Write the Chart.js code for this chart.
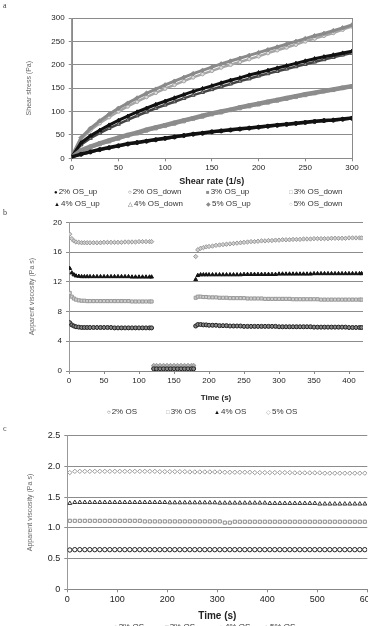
<!DOCTYPE html>
<html>
<head>
<meta charset="utf-8">
<script src="https://cdn.jsdelivr.net/npm/chart.js@4.4.0/dist/chart.umd.min.js"></script>
<style>
html, body { margin: 0; padding: 0; width: 368px; height: 626px; overflow: hidden; background: #fff; }
body { position: relative; font-family: "Liberation Sans", Arial, sans-serif; }
canvas { position: absolute; left: 0; }
.tag { position: absolute; left: 3px; font: 8px "Liberation Serif", serif; color: #444; transform: translateZ(0); }
.leg { position: absolute; font-size: 8px; line-height: 8px; color: #333; white-space: nowrap; transform: translateZ(0); }
.leg .m { font-size: 6px; margin-right: 1px; }
</style>
</head>
<body>
<span class="tag" style="top:1px">a</span>
<span class="tag" style="top:208px">b</span>
<span class="tag" style="top:424px">c</span>
<canvas id="chartA" width="368" height="190" style="top:0px"></canvas>
<canvas id="chartB" width="368" height="200" style="top:205px"></canvas>
<canvas id="chartC" width="400" height="210" style="top:420px"></canvas>
<script>
// ---- panel a: shear stress vs shear rate
var shearRate = [0, 10, 20, 30, 40, 50, 60, 70, 80, 90, 100, 110, 120, 130, 140, 150,
    160, 170, 180, 190, 200, 210, 220, 230, 240, 250, 260, 270, 280, 290, 300];
var stress2Up = [3, 9, 14, 19, 23, 27, 31, 34, 37, 40, 43, 46, 49, 52, 54, 57,
    59, 61, 63, 65, 67, 69, 71, 73, 75, 77, 79, 81, 82, 84, 86];
var stress2Down = [3, 8, 13, 18, 22, 26, 30, 33, 36, 39, 42, 45, 48, 51, 53, 56,
    58, 60, 62, 64, 66, 68, 70, 72, 74, 76, 78, 80, 81, 83, 85];
var stress3Up = [2, 17, 25, 32, 38, 44, 50, 55, 61, 66, 71, 76, 81, 86, 91, 96,
    100, 104, 109, 113, 117, 121, 125, 129, 133, 137, 140, 144, 147, 151, 154];
var stress3Down = [2, 15, 23, 30, 36, 42, 48, 53, 59, 64, 69, 74, 79, 84, 89, 94,
    98, 103, 107, 111, 115, 119, 123, 127, 131, 135, 139, 143, 146, 150, 153];
var stress4Up = [3, 33, 48, 60, 71, 81, 90, 99, 107, 115, 122, 129, 136, 143, 149, 155,
    161, 167, 172, 178, 183, 188, 193, 198, 203, 208, 213, 217, 221, 225, 229];
var stress4Down = [3, 29, 43, 54, 64, 73, 82, 91, 99, 107, 114, 121, 128, 135, 141, 147,
    153, 159, 165, 170, 176, 181, 186, 191, 196, 201, 206, 211, 216, 221, 225];
var stress5Up = [4, 44, 64, 80, 94, 107, 118, 129, 139, 148, 157, 165, 173, 181, 188, 195,
    202, 208, 214, 220, 226, 232, 238, 244, 250, 256, 262, 267, 273, 279, 285];
var stress5Down = [4, 41, 60, 75, 88, 100, 111, 121, 131, 140, 149, 157, 165, 173, 180, 187,
    194, 200, 206, 212, 218, 225, 231, 237, 243, 250, 256, 262, 268, 275, 282];
var labelsA = ["2% OS_up", "2% OS_down", "3% OS_up", "3% OS_down",
    "4% OS_up", "4% OS_down", "5% OS_up", "5% OS_down"];

// ---- panel b: viscosity, low / high / low shear steps
var timeB = [1, 4, 7, 10, 14, 18, 22, 26, 30, 35, 40, 45, 50, 55, 60, 65, 70, 75, 80, 85, 90, 95, 100, 105, 110, 115, 118,
    121, 125, 130, 135, 140, 145, 150, 155, 160, 165, 170, 175, 178,
    181, 184, 188, 192, 196, 200, 205, 210, 215, 220, 225, 230, 235, 240, 245, 250, 255, 260, 265, 270, 275,
    280, 285, 290, 295, 300, 305, 310, 315, 320, 325, 330, 335, 340, 345, 350, 355, 360, 365, 370, 375,
    380, 385, 390, 395, 400, 405, 410, 415, 418];
var viscB2 = [6.5, 6.2, 6.05, 5.95, 5.9, 5.85, 5.85, 5.85, 5.85, 5.85, 5.85, 5.85, 5.85, 5.85, 5.85,
    5.8, 5.8, 5.8, 5.8, 5.8, 5.8, 5.8, 5.8, 5.8, 5.8, 5.8, 5.8,
    0.3, 0.3, 0.3, 0.3, 0.3, 0.3, 0.3, 0.3, 0.3, 0.3, 0.3, 0.3, 0.3,
    6.05, 6.25, 6.25, 6.2, 6.2,
    6.15, 6.15, 6.15, 6.1, 6.1, 6.1, 6.05, 6.05, 6.05, 6.05,
    6.0, 6.0, 6.0, 6.0, 6.0, 6.0, 6.0, 6.0, 6.0, 6.0,
    5.95, 5.95, 5.95, 5.95, 5.95, 5.95, 5.95, 5.95, 5.95, 5.95,
    5.9, 5.9, 5.9, 5.9, 5.9, 5.9, 5.9, 5.9, 5.9, 5.9,
    5.85, 5.85, 5.85, 5.85, 5.85];
var viscB3 = [10.5, 10.0, 9.75, 9.6, 9.5, 9.45, 9.45,
    9.4, 9.4, 9.4, 9.4, 9.4, 9.4, 9.4, 9.4, 9.4, 9.4, 9.4, 9.4, 9.4,
    9.35, 9.35, 9.35, 9.35, 9.35, 9.35, 9.35,
    0.6, 0.6, 0.6, 0.6, 0.6, 0.6, 0.6, 0.6, 0.6, 0.6, 0.6, 0.6, 0.6,
    9.85, 10.0, 10.0, 9.95, 9.95,
    9.9, 9.9, 9.9, 9.85, 9.85, 9.85, 9.8, 9.8, 9.8, 9.8,
    9.8, 9.75, 9.75, 9.75, 9.75, 9.75, 9.7, 9.7, 9.7, 9.7,
    9.7, 9.7, 9.7, 9.7, 9.65, 9.65, 9.65, 9.65, 9.65, 9.65,
    9.65, 9.65, 9.6, 9.6, 9.6, 9.6, 9.6, 9.6, 9.6, 9.6,
    9.6, 9.6, 9.6, 9.6, 9.6];
var viscB4 = [13.8, 13.2, 12.95, 12.8, 12.75,
    12.7, 12.7, 12.7, 12.7, 12.7, 12.7, 12.7, 12.7, 12.7, 12.7, 12.7, 12.7, 12.7, 12.7, 12.7,
    12.65, 12.65, 12.65, 12.65, 12.65, 12.65, 12.65,
    0.45, 0.45, 0.45, 0.45, 0.45, 0.45, 0.45, 0.45, 0.45, 0.45, 0.45, 0.45, 0.45,
    12.3, 12.85, 12.95, 12.95, 12.95,
    12.95, 12.95, 12.95, 12.95, 12.95, 12.95, 12.95, 12.95, 12.95, 12.95,
    13.0, 13.0, 13.0, 13.0, 13.0, 13.0, 13.0, 13.0, 13.0, 13.0,
    13.05, 13.05, 13.05, 13.05, 13.05, 13.05, 13.05, 13.05, 13.05, 13.05,
    13.1, 13.1, 13.1, 13.1, 13.1, 13.1, 13.1, 13.1, 13.1, 13.1,
    13.1, 13.1, 13.1, 13.1, 13.1];
var viscB5 = [18.4, 17.8, 17.5, 17.35, 17.3, 17.25, 17.25, 17.25, 17.25, 17.25, 17.25, 17.25,
    17.3, 17.3, 17.3, 17.3, 17.3, 17.3, 17.35, 17.35, 17.35, 17.35, 17.4, 17.4, 17.4, 17.4, 17.4,
    0.75, 0.75, 0.75, 0.75, 0.75, 0.75, 0.75, 0.75, 0.75, 0.75, 0.75, 0.75, 0.75,
    15.4, 16.3, 16.5, 16.6, 16.7,
    16.75, 16.8, 16.9, 16.95, 17.0, 17.05, 17.1, 17.15, 17.2, 17.25,
    17.3, 17.35, 17.4, 17.4, 17.45, 17.5, 17.5, 17.55, 17.55, 17.6,
    17.6, 17.65, 17.65, 17.65, 17.7, 17.7, 17.7, 17.75, 17.75, 17.75,
    17.8, 17.8, 17.8, 17.8, 17.8, 17.85, 17.85, 17.85, 17.85, 17.85,
    17.9, 17.9, 17.9, 17.9, 17.9];
var labelsOS = ["2% OS", "3% OS", "4% OS", "5% OS"];

// ---- panel c: viscosity at constant shear
var timeC = [5, 15, 25, 35, 45, 55, 65, 75, 85, 95, 105, 115, 125, 135, 145, 155, 165, 175, 185, 195,
    205, 215, 225, 235, 245, 255, 265, 275, 285, 295, 305, 315, 325, 335, 345, 355, 365, 375, 385, 395,
    405, 415, 425, 435, 445, 455, 465, 475, 485, 495, 505, 515, 525, 535, 545, 555, 565, 575, 585, 595];
var viscC2 = [0.64, 0.645, 0.645, 0.645, 0.645, 0.645, 0.645, 0.645, 0.645, 0.645,
    0.645, 0.645, 0.645, 0.645, 0.645, 0.645, 0.645, 0.645, 0.645, 0.645,
    0.645, 0.645, 0.645, 0.645, 0.645, 0.645, 0.645, 0.645, 0.645, 0.645,
    0.645, 0.645, 0.645, 0.645, 0.645, 0.645, 0.645, 0.645, 0.645, 0.645,
    0.645, 0.645, 0.645, 0.645, 0.645, 0.645, 0.645, 0.645, 0.645, 0.645,
    0.645, 0.645, 0.645, 0.645, 0.645, 0.645, 0.645, 0.645, 0.645, 0.645];
var viscC3 = [1.115, 1.115, 1.115, 1.115, 1.115, 1.115, 1.115, 1.115, 1.115, 1.115,
    1.115, 1.115, 1.115, 1.115, 1.115, 1.105, 1.105, 1.105, 1.105, 1.105,
    1.105, 1.105, 1.105, 1.105, 1.105, 1.105, 1.105, 1.105, 1.105, 1.105,
    1.105, 1.085, 1.085, 1.1, 1.1, 1.1, 1.1, 1.1, 1.1, 1.1,
    1.1, 1.1, 1.1, 1.1, 1.1, 1.1, 1.1, 1.1, 1.1, 1.1,
    1.1, 1.1, 1.1, 1.1, 1.1, 1.1, 1.1, 1.1, 1.1, 1.1];
var viscC4 = [1.4, 1.415, 1.415, 1.415, 1.415, 1.415, 1.415, 1.415, 1.415, 1.415,
    1.415, 1.415, 1.415, 1.415, 1.415, 1.415, 1.415, 1.415, 1.415, 1.415,
    1.41, 1.41, 1.41, 1.41, 1.41, 1.41, 1.41, 1.41, 1.41, 1.41,
    1.405, 1.405, 1.405, 1.405, 1.405, 1.405, 1.405, 1.405, 1.405, 1.405,
    1.4, 1.4, 1.4, 1.4, 1.4, 1.4, 1.4, 1.4, 1.4, 1.4,
    1.39, 1.39, 1.39, 1.39, 1.39, 1.39, 1.39, 1.39, 1.39, 1.39];
var viscC5 = [1.9, 1.92, 1.92, 1.92, 1.92, 1.92, 1.92, 1.92, 1.92, 1.92,
    1.92, 1.92, 1.92, 1.92, 1.92, 1.92, 1.92, 1.92, 1.915, 1.915,
    1.915, 1.915, 1.915, 1.915, 1.91, 1.91, 1.91, 1.91, 1.91, 1.91,
    1.91, 1.905, 1.905, 1.905, 1.905, 1.905, 1.905, 1.9, 1.9, 1.9,
    1.9, 1.9, 1.9, 1.9, 1.9, 1.895, 1.895, 1.895, 1.895, 1.895,
    1.895, 1.89, 1.89, 1.89, 1.89, 1.89, 1.89, 1.89, 1.89, 1.89];

Chart.defaults.font.family = "'Liberation Sans', Arial, sans-serif";
Chart.defaults.color = "#222";

function xy(xs, ys) {
    return xs.map(function (x, i) { return { x: x, y: ys[i] }; });
}

// plot frame like the excel plot area border
var frame = {
    id: "frame",
    beforeDatasetsDraw: function (chart, args, opts) {
        if (!opts.on) return;
        var a = chart.chartArea, ctx = chart.ctx;
        ctx.save();
        ctx.strokeStyle = "#8a8a8a";
        ctx.lineWidth = 1;
        ctx.strokeRect(Math.round(a.left) + 0.5, Math.round(a.top) + 0.5, Math.round(a.right - a.left), Math.round(a.bottom - a.top));
        ctx.restore();
    }
};

function xAxis(max, step, title, tickSize, titleSize, titlePad, height) {
    return {
        type: "linear", min: 0, max: max,
        ticks: { stepSize: step, includeBounds: false, padding: 2, maxRotation: 0, font: { size: tickSize } },
        grid: { drawOnChartArea: false, tickLength: 3, color: "#888" },
        border: { color: "#888" },
        title: { display: true, text: title, font: { size: titleSize, weight: "bold" }, padding: { top: 0, bottom: titlePad } },
        afterFit: function (s) { s.height = height; }
    };
}

function yAxis(max, step, title, tickSize, titleX, width) {
    return {
        min: 0, max: max,
        ticks: { stepSize: step, padding: 4, font: { size: tickSize } },
        grid: { color: "#8c8c8c", tickLength: 3 },
        border: { color: "#999" },
        title: { display: true, text: title, color: "#666", font: { size: 7 }, padding: { top: titleX, bottom: 0 } },
        afterFit: function (s) { s.width = width; }
    };
}

function baseOptions(pad, xs, ys, framed) {
    return {
        responsive: false,
        animation: false,
        devicePixelRatio: 1,
        layout: { padding: pad },
        plugins: { legend: { display: false }, tooltip: { enabled: false }, frame: { on: framed } },
        scales: { x: xs, y: ys }
    };
}

function series(label, xs, ys, style, color, fill, r, line) {
    return {
        label: label,
        data: xy(xs, ys),
        showLine: !!line,
        borderWidth: line || 0,
        borderColor: color,
        backgroundColor: fill,
        pointStyle: style,
        pointRadius: r,
        pointBorderColor: color,
        pointBackgroundColor: fill,
        pointBorderWidth: 1,
        tension: 0
    };
}

new Chart(document.getElementById("chartA"), {
    type: "scatter",
    data: {
        datasets: [
            series(labelsA[0], shearRate, stress2Up, "circle", "#111", "#111", 1.8, 3.5),
            series(labelsA[1], shearRate, stress2Down, "circle", "#333", "#777", 1.8, 2.5),
            series(labelsA[2], shearRate, stress3Up, "rect", "#8c8c8c", "#8c8c8c", 2.2, 4.5),
            series(labelsA[3], shearRate, stress3Down, "rect", "#9a9a9a", "#ccc", 2.2, 3),
            series(labelsA[4], shearRate, stress4Up, "triangle", "#111", "#111", 2.2, 3),
            series(labelsA[5], shearRate, stress4Down, "triangle", "#444", "#999", 2.2, 2.5),
            series(labelsA[6], shearRate, stress5Up, "rectRot", "#8a8a8a", "#8a8a8a", 2.2, 3),
            series(labelsA[7], shearRate, stress5Down, "circle", "#a5a5a5", "#ddd", 1.8, 2.5)
        ]
    },
    options: baseOptions({ top: 18, right: 16, left: 0, bottom: 0 },
        xAxis(300, 50, "Shear rate (1/s)", 8, 9, 3, 31.7),
        yAxis(300, 50, "Shear stress (Pa)", 8, 25, 71.7), true),
    plugins: [frame]
});

new Chart(document.getElementById("chartB"), {
    type: "scatter",
    data: {
        datasets: [
            series(labelsOS[0], timeB, viscB2, "circle", "#222", "#888", 2, 0),
            series(labelsOS[1], timeB, viscB3, "rect", "#999", "#d0d0d0", 2.2, 0),
            series(labelsOS[2], timeB, viscB4, "triangle", "#111", "#111", 2.2, 0),
            series(labelsOS[3], timeB, viscB5, "rectRot", "#999", "#d0d0d0", 2.2, 0)
        ]
    },
    options: baseOptions({ top: 17.3, right: 4, left: 0, bottom: 0 },
        xAxis(420, 50, "Time (s)", 8, 8, 2.5, 34),
        yAxis(20, 4, "Apparent viscosity (Pa s)", 8, 28, 69), false),
    plugins: [frame]
});

new Chart(document.getElementById("chartC"), {
    type: "scatter",
    data: {
        datasets: [
            series(labelsOS[0], timeC, viscC2, "circle", "#222", "#fff", 2.2, 0),
            series(labelsOS[1], timeC, viscC3, "rect", "#8a8a8a", "#fff", 2.2, 0),
            series(labelsOS[2], timeC, viscC4, "triangle", "#333", "#fff", 2.3, 0),
            series(labelsOS[3], timeC, viscC5, "rectRot", "#9a9a9a", "#fff", 2.2, 0)
        ]
    },
    options: baseOptions({ top: 15.7, right: 32.7, left: 0, bottom: 0 },
        xAxis(600, 100, "Time (s)", 9, 10, 7.3, 40.7),
        yAxis(2.5, 0.5, "Apparent viscosity (Pa s)", 9, 26, 67.3), false),
    plugins: [frame]
});

// legends placed in fixed columns, as in the figure
function legend(items, top) {
    items.forEach(function (it) {
        var d = document.createElement("div");
        d.className = "leg";
        d.style.left = it[0] + "px";
        d.style.top = top + "px";
        d.innerHTML = '<span class="m" style="color:' + it[2] + '">' + it[1] + "</span>" + it[3];
        document.body.appendChild(d);
    });
}
legend([[54, "\u25CF", "#111", labelsA[0]], [128, "\u25CB", "#333", labelsA[1]],
    [206, "\u25A0", "#8c8c8c", labelsA[2]], [289, "\u25A1", "#999", labelsA[3]]], 187.7);
legend([[54, "\u25B2", "#111", labelsA[4]], [128, "\u25B3", "#444", labelsA[5]],
    [206, "\u25C6", "#8a8a8a", labelsA[6]], [289, "\u25CB", "#a5a5a5", labelsA[7]]], 199.7);
var markOS = [["\u25CB", "#222"], ["\u25A1", "#999"], ["\u25B2", "#111"], ["\u25C7", "#999"]];
legend([107, 166, 214, 266].map(function (x, i) { return [x, markOS[i][0], markOS[i][1], labelsOS[i]]; }), 407.7);
legend([114, 165, 218, 264].map(function (x, i) { return [x, markOS[i][0], markOS[i][1], labelsOS[i]]; }), 622.5);
</script>
</body>
</html>
